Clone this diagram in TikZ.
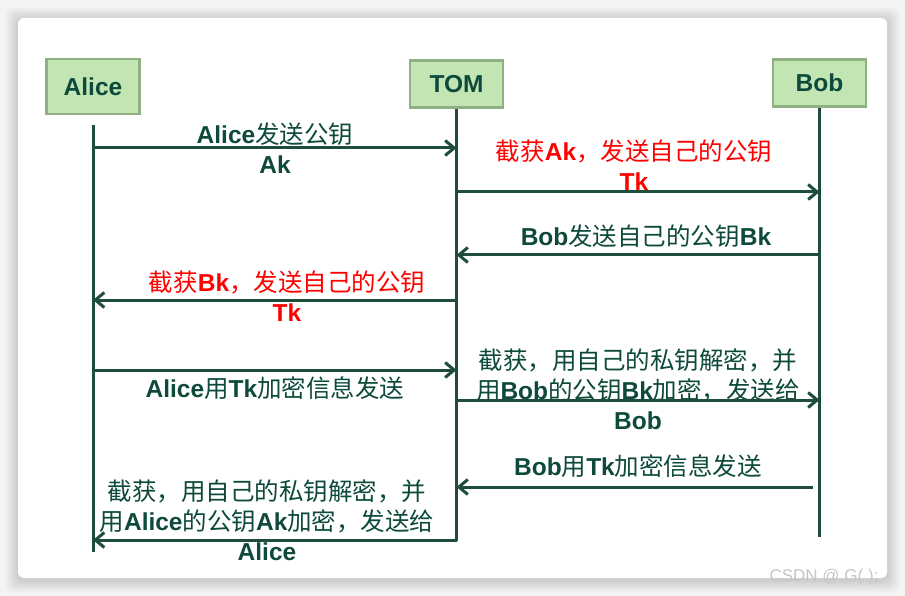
\documentclass[tikz,border=0pt]{standalone}
\usepackage{fontspec}
\setmainfont{Liberation Sans}
\newfontfamily\zhfont{Noto Sans CJK SC}
\usetikzlibrary{arrows.meta, positioning}
\definecolor{lifegreen}{HTML}{1e4d3c}
\definecolor{textgreen}{HTML}{0d4a3b}
\definecolor{headfill}{HTML}{c2e5b3}
\definecolor{headline}{HTML}{8fb080}
\definecolor{pagegray}{HTML}{f4f4f4}
\newcommand{\zh}[1]{{\zhfont\mdseries #1}}
\tikzstyle{headbox} = [rectangle, minimum width=93pt, minimum height=47pt,
  draw=headline, fill=headfill, line width=2.5pt, font=\fontsize{24.5}{29}\selectfont\bfseries, text=textgreen]
\tikzstyle{life} = [lifegreen, line width=3pt]
\tikzstyle{msg} = [lifegreen, line width=3pt, -{Straight Barb[length=9pt,width=15pt]}]
\tikzstyle{msglabel} = [align=center, inner sep=0pt,
  font=\fontsize{24.5}{30}\selectfont\bfseries, text=textgreen]
\tikzstyle{tomlabel} = [msglabel, text=red]

\begin{document}
\begin{tikzpicture}[x=1pt, y=-1pt]
  % Page and card
  \useasboundingbox (0,0) rectangle (905,596);
  \fill[pagegray] (0,0) rectangle (905,596);
  \foreach \s in {1,...,13}
    \fill[black, opacity=0.012, rounded corners=8pt] (18-\s,20-\s) rectangle (887+\s,580+\s);
  \fill[white, rounded corners=6pt] (18,18) rectangle (887,578);

  % Heads
  \node (alice) [headbox, minimum height=55pt] at (93,86.5) {Alice};
  \node (tom) [headbox] at (456.5,84) {TOM};
  \node (bob) [headbox] at (819.5,83) {Bob};

  % Rows
  \coordinate (m1) at (0,148);
  \coordinate (m2) at (0,192);
  \coordinate (m3) at (0,255);
  \coordinate (m4) at (0,300);
  \coordinate (m5) at (0,370);
  \coordinate (m6) at (0,400);
  \coordinate (m7) at (0,487);
  \coordinate (m8) at (0,540);
  \coordinate (aliceEnd) at (0,552);
  \coordinate (tomEnd) at (0,541);
  \coordinate (bobEnd) at (0,537);

  % Lifelines
  \draw[life] ([yshift=-10pt]alice.south) -- (alice |- aliceEnd);
  \draw[life] (tom.south) -- (tom |- tomEnd);
  \draw[life] (bob.south) -- (bob |- bobEnd);

  % Labels
  \node (l1) [msglabel] at (275,148) {Alice\zh{发送公钥}\\Ak};
  \node (l2) [tomlabel] at (634,165) {\zh{截获}Ak\zh{，发送自己的公钥}\\Tk};
  \node (l3) [msglabel] at (646,236) {Bob\zh{发送自己的公钥}Bk};
  \node (l4) [tomlabel] at (287,296) {\zh{截获}Bk\zh{，发送自己的公钥}\\Tk};
  \node (l5) [msglabel] at (275,388) {Alice\zh{用}Tk\zh{加密信息发送}};
  \node (l6) [msglabel] at (638,389)
    {\zh{截获，用自己的私钥解密，并}\\\zh{用}Bob\zh{的公钥}Bk\zh{加密，发送给}\\Bob};
  \node (l7) [msglabel] at (638,466) {Bob\zh{用}Tk\zh{加密信息发送}};
  \node (l8) [msglabel] at (267,520)
    {\zh{截获，用自己的私钥解密，并}\\\zh{用}Alice\zh{的公钥}Ak\zh{加密，发送给}\\Alice};

  % Arrows
  \draw[msg] (alice |- m1) -- (tom |- m1);
  \draw[msg] (tom |- m2) -- (bob |- m2);
  \draw[msg] (bob |- m3) -- (tom |- m3);
  \draw[msg] (tom |- m4) -- (alice |- m4);
  \draw[msg] (alice |- m5) -- (tom |- m5);
  \draw[msg] (tom |- m6) -- (bob |- m6);
  \draw[msg] ([xshift=-7pt]bob |- m7) -- (tom |- m7);
  \draw[msg] (tom |- m8) -- (alice |- m8);

  % Watermark
  \node (mark) [font=\fontsize{17}{20}\selectfont, text=gray!45] at (824,577) {CSDN @.G( );};
\end{tikzpicture}
\end{document}
